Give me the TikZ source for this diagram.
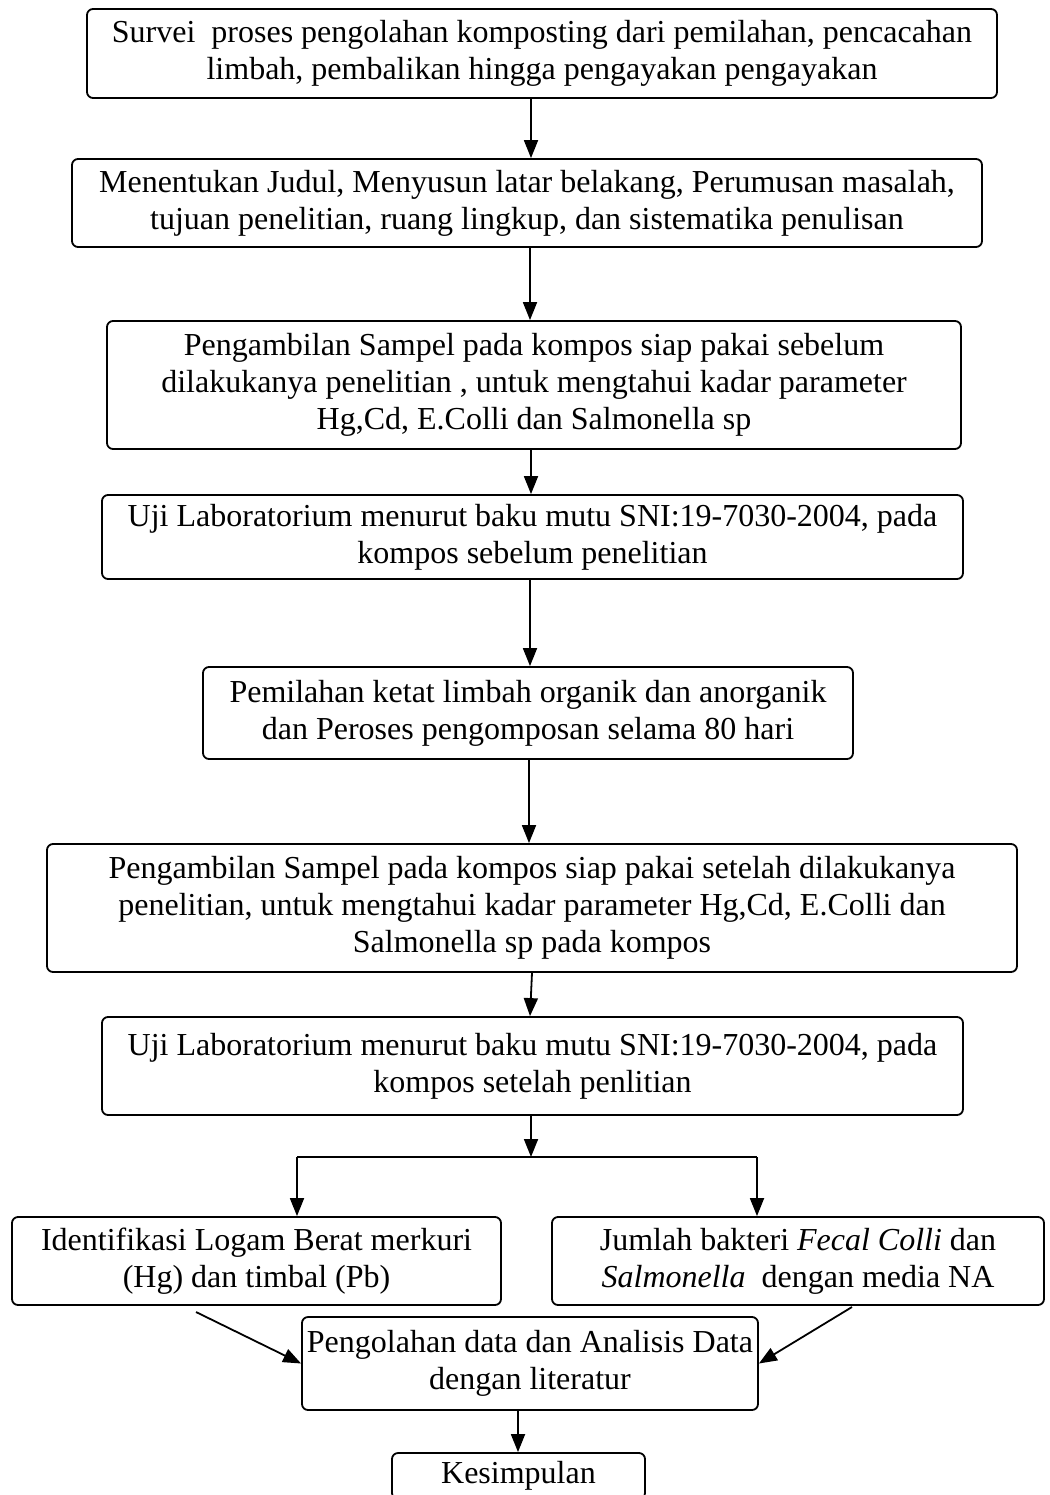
\documentclass[tikz,border=0pt]{standalone}
\usepackage{fontspec}
\setmainfont{Liberation Serif}
\usetikzlibrary{arrows.meta,calc}
\begin{document}
\begin{tikzpicture}[x=1pt,y=-1pt,
  box/.style={draw, line width=1.8pt, rounded corners=6pt, align=center, inner sep=0pt,
              font=\fontsize{32}{37}\selectfont},
  arr/.style={-{Triangle[length=18pt,width=14pt]}, line width=1.8pt},
  ln/.style={line width=1.8pt}]
\useasboundingbox (0,0) rectangle (1049,1495);
\clip (0,0) rectangle (1049,1495);
\node[box, minimum width=910, minimum height=89] (b1) at (542,53.5)
 {Survei\ \ proses pengolahan komposting dari pemilahan, pencacahan\\limbah, pembalikan hingga pengayakan pengayakan};
\node[box, minimum width=910, minimum height=88] (b2) at (527,203)
 {Menentukan Judul, Menyusun latar belakang, Perumusan masalah,\\tujuan penelitian, ruang lingkup, dan sistematika penulisan};
\node[box, minimum width=854, minimum height=128] (b3) at (534,385)
 {Pengambilan Sampel pada kompos siap pakai sebelum\\dilakukanya penelitian , untuk mengtahui kadar parameter\\Hg,Cd, E.Colli dan Salmonella sp};
\node[box, minimum width=861, minimum height=84] (b4) at (532.5,537)
 {Uji Laboratorium menurut baku mutu SNI:19-7030-2004, pada\\kompos sebelum penelitian};
\node[box, minimum width=650, minimum height=92] (b5) at (528,713)
 {Pemilahan ketat limbah organik dan anorganik\\dan Peroses pengomposan selama 80 hari};
\node[box, minimum width=970, minimum height=128] (b6) at (532,908)
 {Pengambilan Sampel pada kompos siap pakai setelah dilakukanya\\penelitian, untuk mengtahui kadar parameter Hg,Cd, E.Colli dan\\Salmonella sp pada kompos};
\node[box, minimum width=861, minimum height=98] (b7) at (532.5,1066)
 {Uji Laboratorium menurut baku mutu SNI:19-7030-2004, pada\\kompos setelah penlitian};
\node[box, minimum width=489, minimum height=88] (b8) at (256.5,1261)
 {Identifikasi Logam Berat merkuri\\(Hg) dan timbal (Pb)};
\node[box, minimum width=492, minimum height=88] (b9) at (798,1261)
 {Jumlah bakteri \textit{Fecal Colli} dan\\\textit{Salmonella}\ \ dengan media NA};
\node[box, minimum width=456, minimum height=93] (b10) at (530,1363.5)
 {Pengolahan data dan Analisis Data\\dengan literatur};
\node[box, minimum width=253, minimum height=46] (b11) at (518.5,1476)
 {Kesimpulan};
% connectors
\draw[arr] (531,0 |- b1.south) -- (531,0 |- b2.north);
\draw[arr] (530,0 |- b2.south) -- (530,0 |- b3.north);
\draw[arr] (531,0 |- b3.south) -- (531,0 |- b4.north);
\draw[arr] (530,0 |- b4.south) -- (530,0 |- b5.north);
\draw[arr] (529,0 |- b5.south) -- (529,0 |- b6.north);
\draw[arr] (532,0 |- b6.south) -- (530,0 |- b7.north);
\coordinate (j) at (531,1157);
\coordinate (jl) at (297,1157);
\coordinate (jr) at (757,1157);
\draw[arr] (531,0 |- b7.south) -- (j);
\draw[ln] (jl) -- (jr);
\draw[arr] (jl) -- (297,0 |- b8.north);
\draw[arr] (jr) -- (757,0 |- b9.north);
\coordinate (dl) at (196,1312);
\coordinate (dr) at (852,1307);
\draw[arr] (dl) -- (b10.west);
\draw[arr] (dr) -- (b10.east);
\draw[arr] (518,0 |- b10.south) -- (518,0 |- b11.north);
\end{tikzpicture}
\end{document}
